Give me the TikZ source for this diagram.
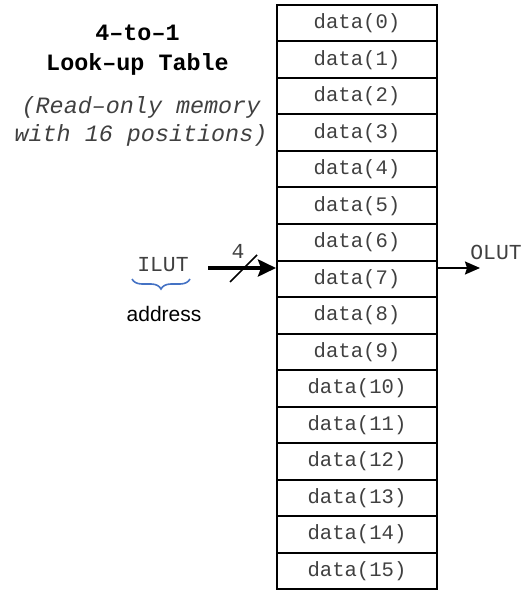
\documentclass[tikz,border=0pt]{standalone}
\usepackage{fontspec}
\setmainfont{Liberation Sans}
\setsansfont{Liberation Sans}
\setmonofont{Liberation Mono}
\usetikzlibrary{arrows.meta,positioning,calc,decorations.pathreplacing}
\definecolor{ink}{HTML}{000000}
\definecolor{muted}{HTML}{404040}
\definecolor{bracecol}{HTML}{4472C4}

\begin{document}
\begin{tikzpicture}[
  x=0.5pt, y=0.5pt,
  >=Latex,
  cell/.style={
    draw=ink,
    line width=1pt,
    minimum width=80pt,
    minimum height=18.25pt,
    inner sep=0pt,
    font=\ttfamily\fontsize{10.3}{12}\selectfont,
    text=muted
  },
  title/.style={font=\ttfamily\bfseries\fontsize{11.7}{15}\selectfont, text=ink, align=center},
  note/.style={font=\ttfamily\itshape\fontsize{11.7}{14}\selectfont, text=muted, align=center},
  signal/.style={font=\ttfamily\fontsize{10.7}{12}\selectfont, text=muted, inner sep=0pt},
  bus/.style={-{Stealth[length=9pt, width=8.5pt, inset=1.5pt]}, line width=2.2pt, draw=ink},
  link/.style={-{Stealth[length=7.5pt, width=6.5pt, inset=1pt]}, line width=0.8pt, draw=ink}
]

\path[use as bounding box] (0,0) rectangle (523,-593);

\node[title] (head) at (137.5,-50) {4–to–1\\Look–up Table};
\node[note] (rom) at (141,-121) {(Read–only memory\\with 16 positions)};

% memory rows
\foreach \i in {0,...,15}
  \node[cell] (d\i) at (357,{-(5+36.5*(\i+0.5))}) {data(\i)};

\node[signal] (ilut) at (163,-265) {ILUT};
\node[font=\sffamily\fontsize{10.5}{12}\selectfont, text=ink] (addr) at (164,-314) {address};
\draw[bracecol, line width=0.8pt, decoration={brace, mirror, amplitude=5pt}, decorate]
  (132,-279) -- (190,-279);

\coordinate (busin) at (208,-268);
\draw[bus] (busin) -- (busin -| d7.west);
\draw[line width=0.8pt, ink] (230,-282) -- (257,-255);
\node[signal] (width) at (238,-251) {4};

\coordinate (busout) at (480,-268);
\draw[link] (busout -| d7.east) -- (busout);
\node[signal] (olut) at (496,-252) {OLUT};

\end{tikzpicture}
\end{document}
